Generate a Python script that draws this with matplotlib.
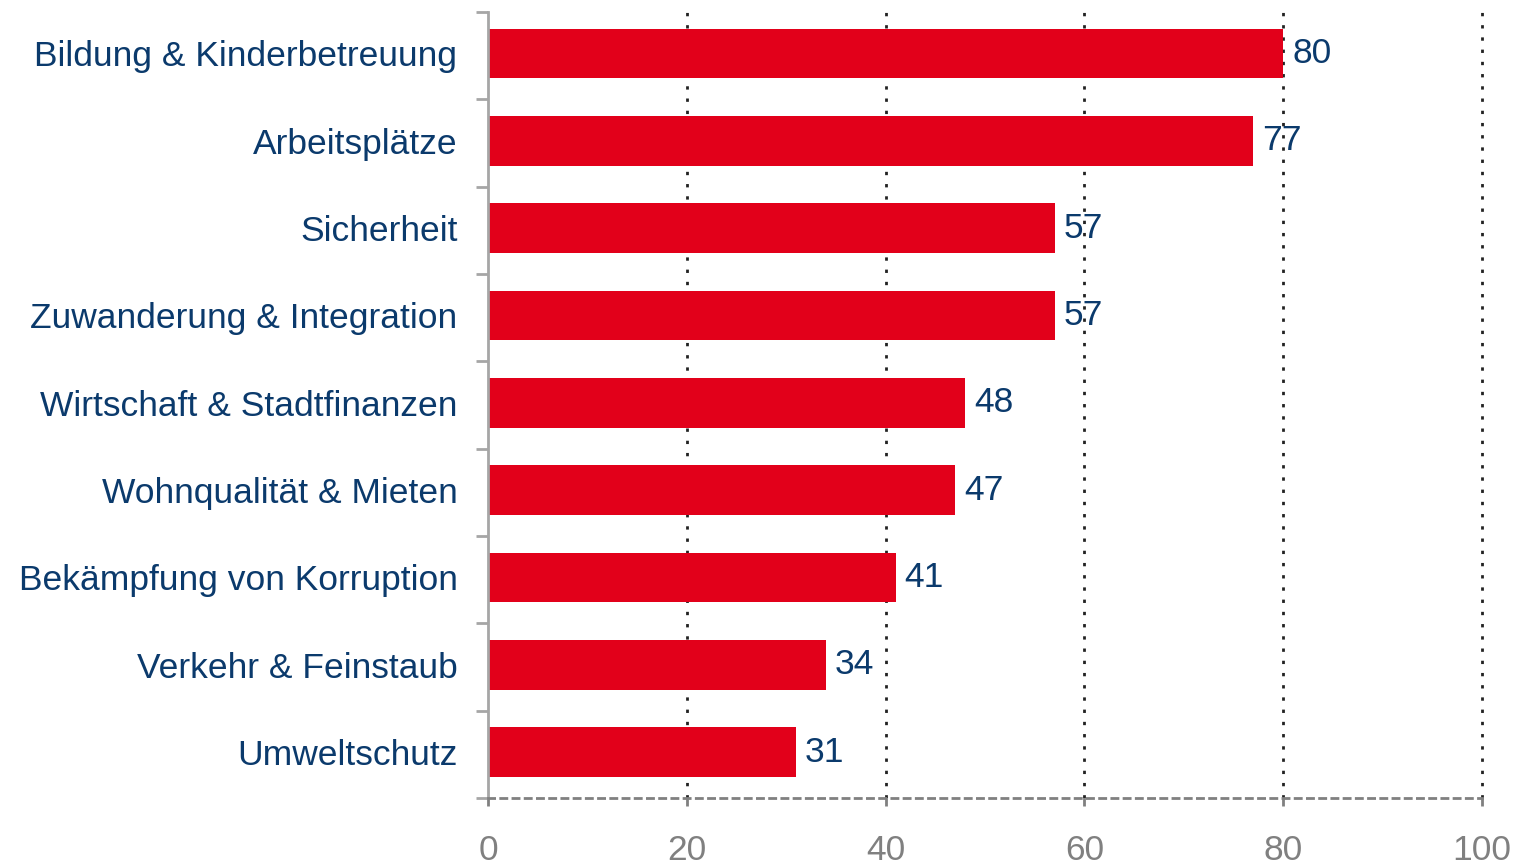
import matplotlib.pyplot as plt

categories = [
    "Bildung & Kinderbetreuung",
    "Arbeitsplätze",
    "Sicherheit",
    "Zuwanderung & Integration",
    "Wirtschaft & Stadtfinanzen",
    "Wohnqualität & Mieten",
    "Bekämpfung von Korruption",
    "Verkehr & Feinstaub",
    "Umweltschutz",
]
values = [80, 77, 57, 57, 48, 47, 41, 34, 31]
x_ticks = [0, 20, 40, 60, 80, 100]

NAVY = "#0b3a6c"
RED = "#e2001a"
GREY = "#808080"

plt.rcParams["font.family"] = ["Liberation Sans", "DejaVu Sans"]

fig = plt.figure(figsize=(15.18, 8.68), dpi=100)
ax = fig.add_axes([488 / 1518, 1 - 798 / 868, 994 / 1518, 786 / 868])

# Balken leicht nach oben versetzt wie im Original
pos = [i - 0.025 for i in range(len(categories))]
ax.barh(pos, values, height=0.57, color=RED, zorder=2)

for p, v in zip(pos, values):
    ax.text(v + 0.9, p, str(v), va="center", ha="left", fontsize=25.5, color=NAVY, zorder=3)

ax.set_xlim(0, 100)
ax.set_ylim(len(categories) - 0.5, -0.5)

# Achsen
ax.set_xticks(x_ticks)
ax.set_xticklabels([str(t) for t in x_ticks], fontsize=25.5, color=GREY)
ax.tick_params(axis="x", length=6, width=2, color=GREY, pad=20, direction="out")

ax.set_yticks(pos)
ax.set_yticklabels(categories, fontsize=25.5, color=NAVY)
ax.tick_params(axis="y", length=0, pad=22)
ax.set_yticks([p - 0.5 for p in range(len(categories) + 1)], minor=True)
ax.tick_params(axis="y", which="minor", length=9, width=2, color="#a6a6a6")

for x in x_ticks[1:]:
    ax.axvline(x, color="#222222", linestyle=(0, (1.2, 3.2)), linewidth=2, zorder=1, clip_on=False)

ax.spines["top"].set_visible(False)
ax.spines["right"].set_visible(False)
ax.spines["left"].set_color("#a6a6a6")
ax.spines["left"].set_linewidth(2)
ax.spines["bottom"].set_color(GREY)
ax.spines["bottom"].set_linewidth(2)
ax.spines["bottom"].set_linestyle((0, (2.2, 2.2)))

fig.savefig("out.png", dpi=100)
